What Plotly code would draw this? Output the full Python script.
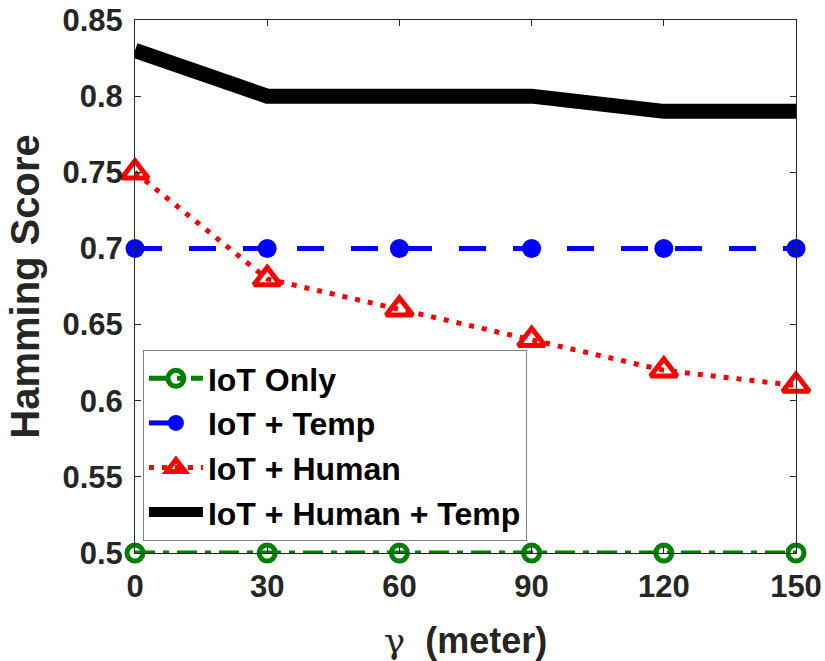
import plotly.graph_objects as go

x_vals = [0, 30, 60, 90, 120, 150]
iot_only = [0.5, 0.5, 0.5, 0.5, 0.5, 0.5]
iot_temp = [0.7, 0.7, 0.7, 0.7, 0.7, 0.7]
iot_human = [0.75, 0.68, 0.66, 0.64, 0.62, 0.61]
iot_human_temp = [0.83, 0.80, 0.80, 0.80, 0.79, 0.79]
names = ["IoT Only", "IoT + Temp", "IoT + Human", "IoT + Human + Temp"]
y_ticks = [0.5, 0.55, 0.6, 0.65, 0.7, 0.75, 0.8, 0.85]
y_ticktext = ["0.5", "0.55", "0.6", "0.65", "0.7", "0.75", "0.8", "0.85"]

FONT = "Liberation Sans, Arial"

fig = go.Figure()
fig.add_trace(go.Scatter(
    x=x_vals, y=iot_only, name=names[0], mode="lines+markers",
    line=dict(color="#008000", width=5, dash="20px,8px,6px,8px"),
    marker=dict(symbol="circle-open", size=16, color="#008000", line=dict(width=5, color="#008000")),
    cliponaxis=False))
fig.add_trace(go.Scatter(
    x=x_vals, y=iot_temp, name=names[1], mode="lines+markers",
    line=dict(color="#0000FF", width=5, dash="27px,27px"),
    marker=dict(symbol="circle", size=19, color="#0000FF"),
    cliponaxis=False))
fig.add_trace(go.Scatter(
    x=x_vals, y=iot_human, name=names[2], mode="lines+markers",
    line=dict(color="#FF0000", width=5, dash="5px,8px"),
    marker=dict(symbol="triangle-up-open", size=23, color="#FF0000", line=dict(width=5, color="#FF0000")),
    cliponaxis=False))
fig.add_trace(go.Scatter(
    x=x_vals, y=iot_human_temp, name=names[3], mode="lines",
    line=dict(color="#000000", width=15),
    cliponaxis=False))

axis_common = dict(
    showline=True, linecolor="#262626", linewidth=1, mirror="ticks",
    ticks="inside", ticklen=6, tickcolor="#262626", showgrid=False, zeroline=False,
    automargin=False,
    tickfont=dict(family=FONT, size=31, color="#262626", weight="bold"),
)
fig.update_xaxes(range=[0, 150], tickvals=x_vals, ticktext=[str(v) for v in x_vals],
                 title=dict(text="<span style=\"font-family:'DejaVu Serif';font-weight:normal\">γ</span>&nbsp; <b>(meter)</b>",
                            font=dict(family=FONT, size=36, color="#262626"), standoff=24),
                 ticklabelstandoff=6,
                 **axis_common)
fig.update_yaxes(range=[0.5, 0.85], tickvals=y_ticks, ticktext=y_ticktext,
                 title=dict(text="<b>Hamming Score</b>", font=dict(family=FONT, size=40, color="#262626"), standoff=10),
                 ticklabelstandoff=5,
                 **axis_common)

fig.update_layout(
    width=825, height=661,
    margin=dict(l=135, r=29, t=20, b=108, autoexpand=False),
    plot_bgcolor="white", paper_bgcolor="white",
    legend=dict(x=0.012, y=0.0225, xanchor="left", yanchor="bottom",
                bgcolor="white", bordercolor="#808080", borderwidth=1,
                font=dict(family=FONT, size=32, color="black", weight="bold"),
                itemwidth=54, tracegroupgap=0, entrywidth=340),
    showlegend=True,
)
fig.write_html("out.html")
